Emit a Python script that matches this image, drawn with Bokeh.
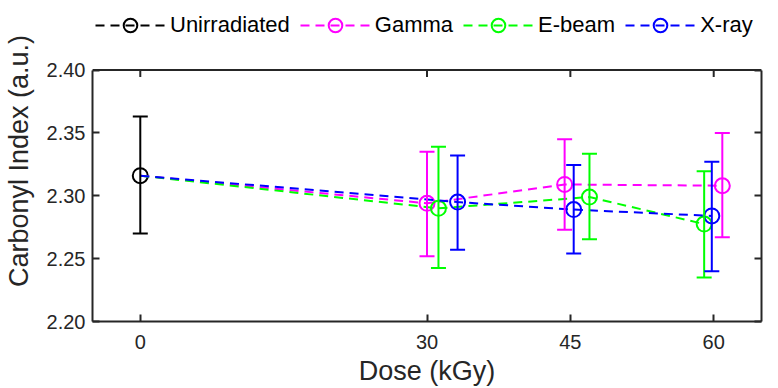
from bokeh.plotting import figure
from bokeh.models import (ColumnDataSource, Whisker, TeeHead, Legend, LegendItem,
                          FixedTicker, PrintfTickFormatter, LinearAxis, Range1d, Span)
from bokeh.embed import file_html
from bokeh.resources import INLINE

# ---------------- data ----------------
dose_ticks = [0, 30, 45, 60]
ci_ticks = [2.20, 2.25, 2.30, 2.35, 2.40]

unirr_x = [0.0]
unirr_y = [2.316]
unirr_lo = [2.270]
unirr_hi = [2.363]

gamma_x = [30.0, 44.4, 60.9]
gamma_y = [2.294, 2.309, 2.308]
gamma_lo = [2.252, 2.273, 2.267]
gamma_hi = [2.335, 2.345, 2.350]

ebeam_x = [31.2, 47.0, 59.0]
ebeam_y = [2.290, 2.299, 2.2775]
ebeam_lo = [2.2425, 2.2655, 2.235]
ebeam_hi = [2.339, 2.3335, 2.3195]

xray_x = [33.2, 45.35, 59.8]
xray_y = [2.295, 2.289, 2.284]
xray_lo = [2.257, 2.254, 2.240]
xray_hi = [2.332, 2.3245, 2.327]

series = [
    ("Unirradiated", "#000000", unirr_x, unirr_y, unirr_lo, unirr_hi),
    ("Gamma", "#FF00FF", gamma_x, gamma_y, gamma_lo, gamma_hi),
    ("E-beam", "#00FF00", ebeam_x, ebeam_y, ebeam_lo, ebeam_hi),
    ("X-ray", "#0000FF", xray_x, xray_y, xray_lo, xray_hi),
]

FONT = "Liberation Sans"
AX = "#262626"

# the frame reaches the top of the canvas so the legend can sit above the axes box
Y0, Y1 = ci_ticks[0], ci_ticks[-1]
px_per_unit = 253 / (Y1 - Y0)
y_top = Y1 + 70 / px_per_unit
tick_len = 7 / px_per_unit

p = figure(width=778, height=388, output_backend="svg", toolbar_location=None,
           x_range=Range1d(-5, 65), y_range=Range1d(Y0, y_top),
           min_border_left=92, min_border_right=17, min_border_top=0,
           min_border_bottom=65)
p.xaxis.visible = False
p.yaxis.visible = False
p.xgrid.visible = False
p.ygrid.visible = False
p.outline_line_color = None
p.background_fill_color = "white"
p.border_fill_color = "white"


def style(ax, labels=True):
    ax.axis_line_color = AX
    ax.axis_line_width = 2
    ax.major_tick_line_color = AX
    ax.major_tick_line_width = 2
    ax.major_tick_in = 7
    ax.major_tick_out = 0
    ax.minor_tick_line_color = None
    ax.major_label_text_font = FONT
    ax.major_label_text_color = AX
    ax.axis_label_text_font = FONT
    ax.axis_label_text_font_style = "normal"
    ax.axis_label_text_color = AX
    ax.axis_label_text_font_size = "27px"
    if labels:
        ax.major_label_text_font_size = "20px"
    else:
        ax.major_label_text_font_size = "0px"
        ax.major_label_standoff = 0


xb = LinearAxis(ticker=FixedTicker(ticks=dose_ticks), axis_label="Dose (kGy)")
style(xb)
xb.major_label_standoff = 13
xb.axis_label_standoff = 4
p.add_layout(xb, "below")

yl = LinearAxis(ticker=FixedTicker(ticks=ci_ticks), axis_label="Carbonyl Index (a.u.)",
                formatter=PrintfTickFormatter(format="%.2f"), bounds=(Y0, Y1))
style(yl)
yl.major_label_standoff = 7
yl.axis_label_standoff = 10
p.add_layout(yl, "left")

yr = LinearAxis(ticker=FixedTicker(ticks=ci_ticks), bounds=(Y0, Y1))
style(yr, labels=False)
p.add_layout(yr, "right")

# top edge of the axes box with inward ticks
p.add_layout(Span(location=Y1, dimension="width", line_color=AX, line_width=2))
p.segment(x0=dose_ticks, y0=[Y1] * len(dose_ticks), x1=dose_ticks,
          y1=[Y1 - tick_len] * len(dose_ticks), line_color=AX, line_width=2)

items = []
for name, color, xs, ys, lo, hi in series:
    if name == "Unirradiated":
        lx, ly = list(xs), list(ys)
    else:
        lx, ly = unirr_x + xs, unirr_y + ys
    line_r = p.line(lx, ly, line_color=color, line_width=2, line_dash="9 6")
    src = ColumnDataSource(dict(
        x=xs, y=ys, lo=lo, hi=hi,
        mid=[(a + b) / 2 for a, b in zip(lo, hi)],
        span=[b - a for a, b in zip(lo, hi)],
    ))
    wh = Whisker(source=src, base="x", upper="hi", lower="lo", dimension="height",
                 line_color=color, line_width=2, level="glyph",
                 upper_head=TeeHead(size=15, line_color=color, line_width=2),
                 lower_head=TeeHead(size=15, line_color=color, line_width=2))
    p.add_layout(wh)
    stem_r = p.ellipse(x="x", y="mid", width=0, height="span", width_units="screen",
                       source=src, fill_alpha=0, line_color=color, line_width=2)
    circ_r = p.scatter("x", "y", source=src, marker="circle", size=15,
                       fill_color=None, line_color=color, line_width=2)
    items.append(LegendItem(label=name, renderers=[line_r, stem_r, circ_r]))

legend = Legend(items=items, orientation="horizontal", location=(3, 279),
                glyph_width=70, glyph_height=34, label_text_font=FONT,
                label_text_font_size="22px", label_text_color="#000000",
                label_standoff=5, spacing=10, padding=0, margin=0,
                border_line_color=None, background_fill_alpha=0)
p.add_layout(legend)

open("out.html", "w").write(file_html(p, INLINE))
